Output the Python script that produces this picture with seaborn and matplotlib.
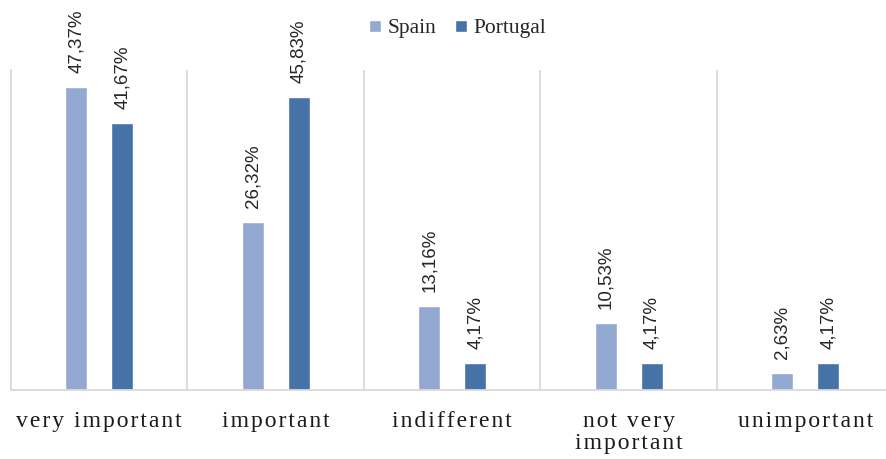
import pandas as pd
import matplotlib
matplotlib.use("Agg")
from matplotlib import pyplot as plt
import seaborn as sns

categories = ["very important", "important", "indifferent", "not very\nimportant", "unimportant"]
countries = ["Spain", "Portugal"]
spain = [47.37, 26.32, 13.16, 10.53, 2.63]
portugal = [41.67, 45.83, 4.17, 4.17, 4.17]
colors = ["#94A9D1", "#4572A7"]

df = pd.DataFrame({
    "category": categories * 2,
    "country": ["Spain"] * 5 + ["Portugal"] * 5,
    "value": spain + portugal,
})

sns.set_theme(style="white")
plt.rcParams["font.family"] = ["Liberation Serif", "DejaVu Serif"]

fig = plt.figure(figsize=(8.87, 4.59), dpi=100)
ax = fig.add_axes([11 / 887, 69 / 459, 876 / 887, 320 / 459])

sns.barplot(data=df, x="category", y="value", hue="country", hue_order=countries,
            order=categories, palette=colors, width=0.52, gap=0.52, ax=ax,
            saturation=1, legend=True)

ax.set_ylim(0, 50)
ax.set_xlim(-0.5, -0.5 + 876 / 176.5)
ax.set_yticks([])
ax.set_xlabel("")
ax.set_ylabel("")

for s in ["top", "right"]:
    ax.spines[s].set_visible(False)
ax.spines["left"].set_color("#d9d9d9")
ax.spines["bottom"].set_color("#d9d9d9")
ax.spines["left"].set_linewidth(1.3)
ax.spines["bottom"].set_linewidth(1.3)
for x in [0.5, 1.5, 2.5, 3.5]:
    ax.axvline(x, color="#d9d9d9", lw=1.3, zorder=0)

# letter-spaced tick labels
spaced = ["\n".join("\u200a".join(line) for line in c.split("\n")) for c in categories]
ax.set_xticks(range(len(categories)))
ax.set_xticklabels(spaced, fontsize=17, color="#1a1a1a", linespacing=1.1)
ax.tick_params(axis="x", length=0, pad=15)

for cont, vals in zip(ax.containers, [spain, portugal]):
    ax.bar_label(cont, labels=[f"{v:.2f}%".replace(".", ",") for v in vals],
                 rotation=90, padding=10, fontsize=13.5, color="#262626",
                 family="Liberation Sans")

handles, labels = ax.get_legend_handles_labels()
ax.get_legend().remove()
fig.legend(handles, labels, loc="center", bbox_to_anchor=(0.516, 0.937), ncol=2,
           frameon=False, fontsize=15.5, handlelength=0.55, handleheight=0.45,
           handletextpad=0.3, columnspacing=0.9)

fig.savefig("out.png", dpi=100)
